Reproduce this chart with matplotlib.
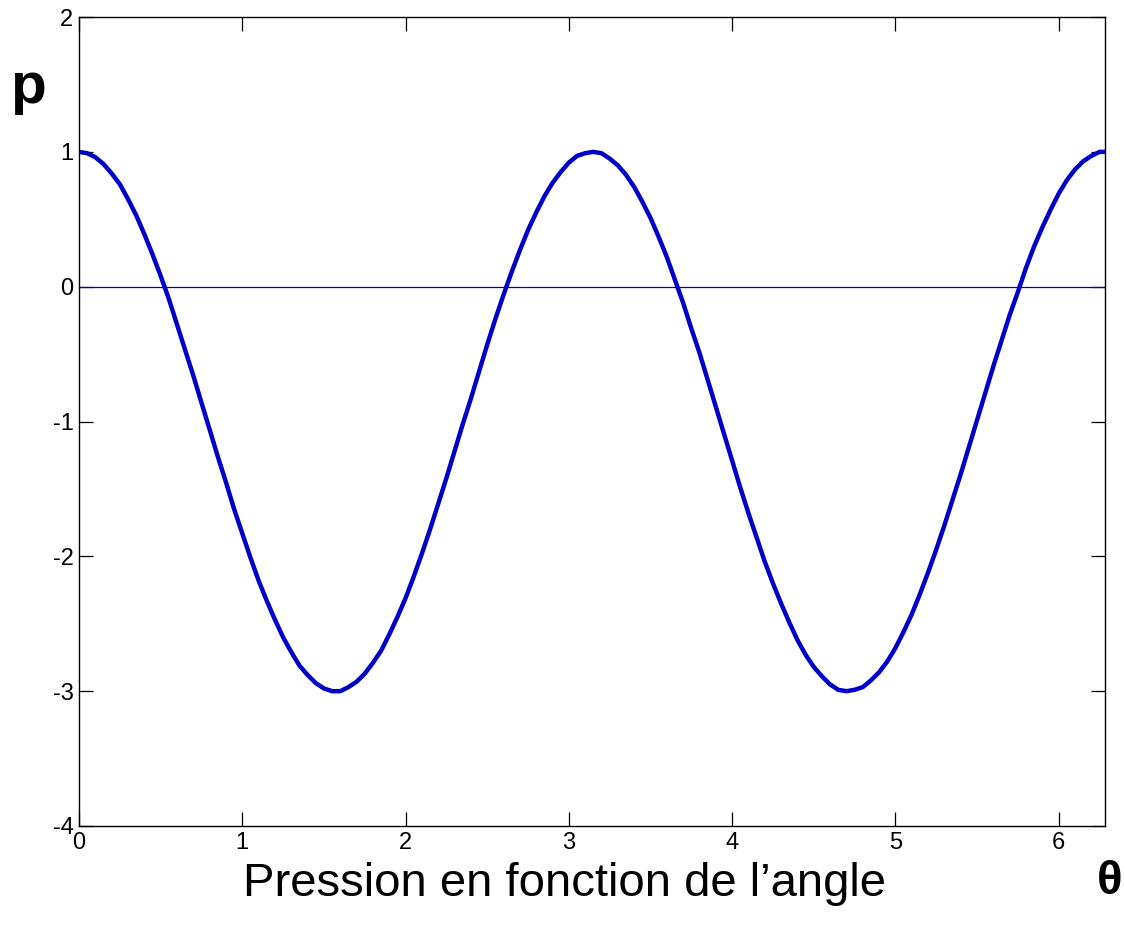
import matplotlib
matplotlib.use("Agg")
import matplotlib.pyplot as plt

plt.rcParams['font.family'] = ['Liberation Sans', 'DejaVu Sans']
plt.rcParams['axes.unicode_minus'] = False

# pression p, angle theta en radians (pas de 0.05)
theta = [0.00, 0.05, 0.10, 0.15, 0.20, 0.25, 0.30, 0.35, 0.40, 0.45,
         0.50, 0.55, 0.60, 0.65, 0.70, 0.75, 0.80, 0.85, 0.90, 0.95,
         1.00, 1.05, 1.10, 1.15, 1.20, 1.25, 1.30, 1.35, 1.40, 1.45,
         1.50, 1.55, 1.60, 1.65, 1.70, 1.75, 1.80, 1.85, 1.90, 1.95,
         2.00, 2.05, 2.10, 2.15, 2.20, 2.25, 2.30, 2.35, 2.40, 2.45,
         2.50, 2.55, 2.60, 2.65, 2.70, 2.75, 2.80, 2.85, 2.90, 2.95,
         3.00, 3.05, 3.10, 3.15, 3.20, 3.25, 3.30, 3.35, 3.40, 3.45,
         3.50, 3.55, 3.60, 3.65, 3.70, 3.75, 3.80, 3.85, 3.90, 3.95,
         4.00, 4.05, 4.10, 4.15, 4.20, 4.25, 4.30, 4.35, 4.40, 4.45,
         4.50, 4.55, 4.60, 4.65, 4.70, 4.75, 4.80, 4.85, 4.90, 4.95,
         5.00, 5.05, 5.10, 5.15, 5.20, 5.25, 5.30, 5.35, 5.40, 5.45,
         5.50, 5.55, 5.60, 5.65, 5.70, 5.75, 5.80, 5.85, 5.90, 5.95,
         6.00, 6.05, 6.10, 6.15, 6.20, 6.25, 6.283]
pression = [1.00, 0.99, 0.96, 0.91, 0.84, 0.76, 0.65, 0.53, 0.39, 0.24,
            0.08, -0.09, -0.28, -0.47, -0.66, -0.86, -1.06, -1.26, -1.45, -1.65,
            -1.83, -2.01, -2.18, -2.33, -2.47, -2.60, -2.71, -2.81, -2.88, -2.94,
            -2.98, -3.00, -3.00, -2.97, -2.93, -2.87, -2.79, -2.70, -2.58, -2.45,
            -2.31, -2.15, -1.98, -1.80, -1.61, -1.42, -1.22, -1.02, -0.83, -0.63,
            -0.43, -0.24, -0.06, 0.11, 0.27, 0.42, 0.55, 0.67, 0.77, 0.85,
            0.92, 0.97, 0.99, 1.00, 0.99, 0.95, 0.90, 0.83, 0.74, 0.63,
            0.51, 0.37, 0.22, 0.05, -0.12, -0.31, -0.49, -0.69, -0.89, -1.09,
            -1.29, -1.49, -1.68, -1.86, -2.04, -2.20, -2.35, -2.49, -2.62, -2.73,
            -2.82, -2.89, -2.95, -2.99, -3.00, -2.99, -2.97, -2.92, -2.86, -2.78,
            -2.68, -2.56, -2.43, -2.28, -2.12, -1.95, -1.77, -1.58, -1.39, -1.19,
            -0.99, -0.79, -0.59, -0.40, -0.21, -0.04, 0.14, 0.30, 0.44, 0.57,
            0.69, 0.79, 0.87, 0.93, 0.97, 1.00, 1.00]
x_ticks = [0, 1, 2, 3, 4, 5, 6]
y_ticks = [-4, -3, -2, -1, 0, 1, 2]

fig = plt.figure(figsize=(11.24, 9.26), dpi=100)
ax = fig.add_axes([0.0703, 0.108, 0.9127, 0.8736])

ax.plot(theta, pression, color='#0000c8', linewidth=3.2,
        solid_joinstyle='round', solid_capstyle='round')
ax.axhline(0, color='#0000c8', linewidth=0.9)

ax.set_xlim(0, 6.283)
ax.set_ylim(-4, 2)
ax.set_xticks(x_ticks)
ax.set_yticks(y_ticks)
ax.tick_params(direction='in', length=10, width=0.9, top=True, right=True,
               labelsize=17, pad=4)
for s in ax.spines.values():
    s.set_linewidth(1.0)

fig.text(0.025, 0.905, 'p', fontsize=42, fontweight='bold', ha='center', va='center')
fig.text(0.987, 0.048, 'θ', fontsize=34, fontweight='bold', ha='center', va='center')
fig.text(0.502, 0.045, 'Pression en fonction de l’angle', fontsize=34,
         ha='center', va='center')

fig.savefig('out.png', dpi=100)
